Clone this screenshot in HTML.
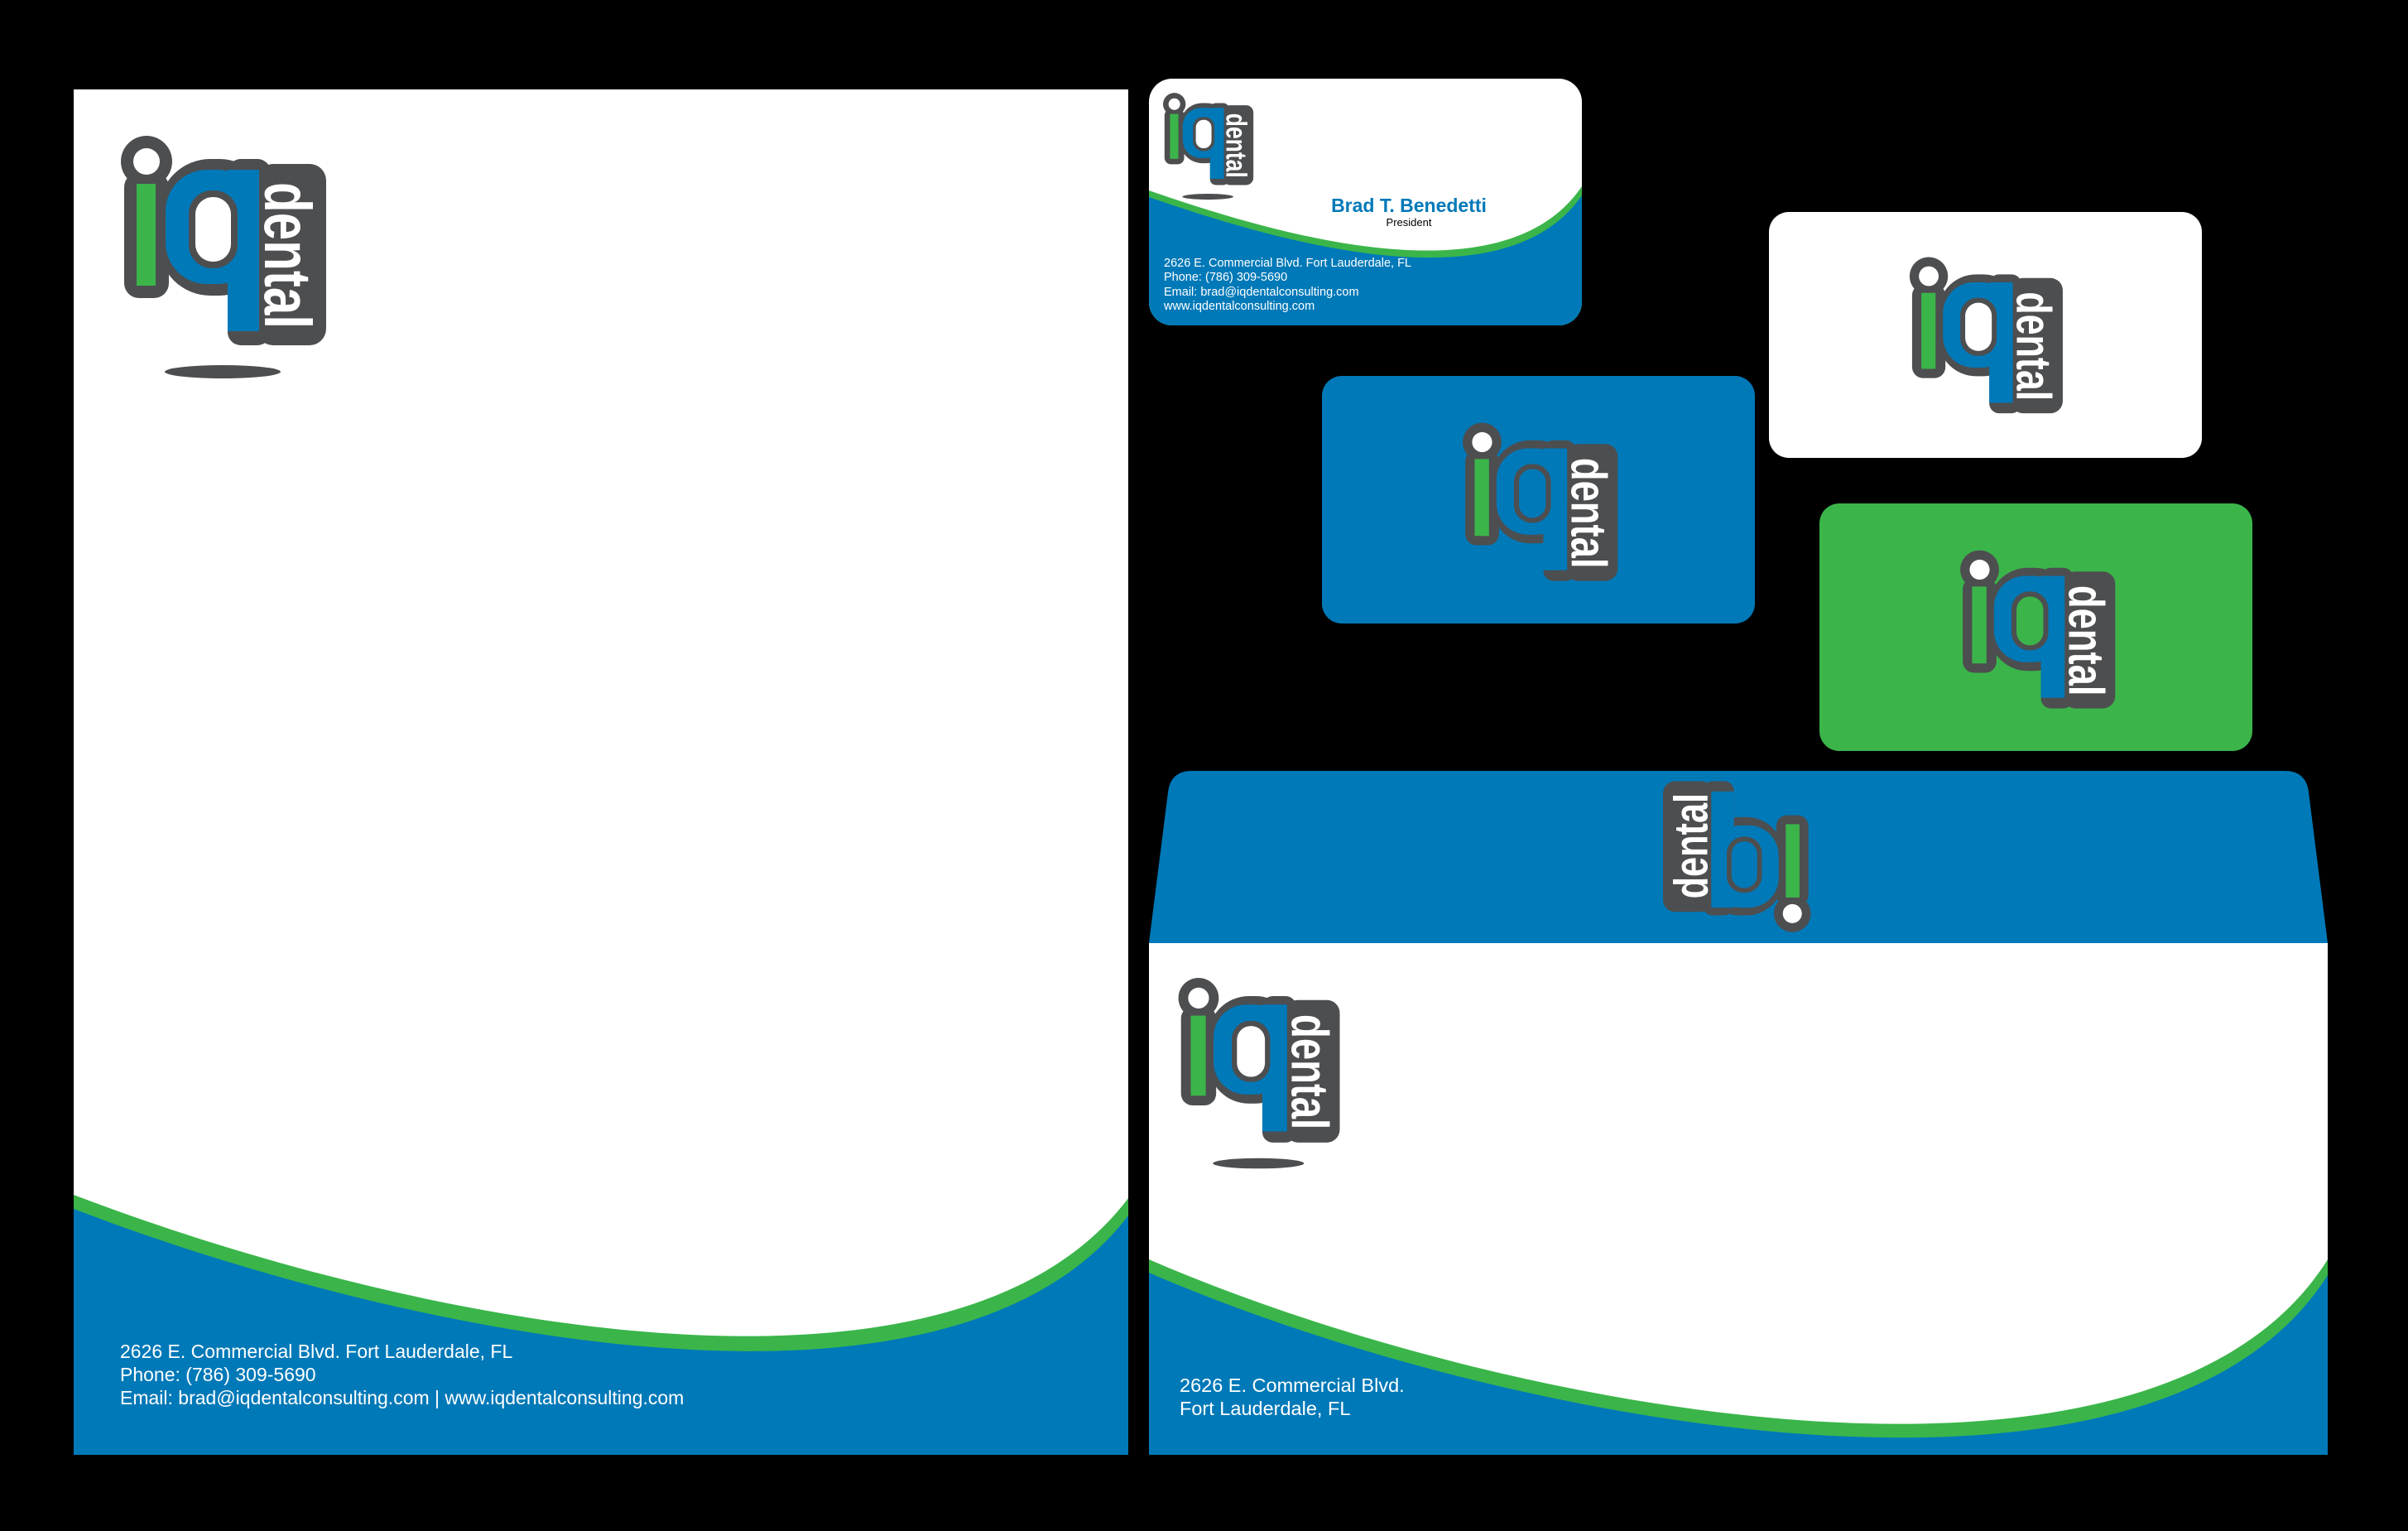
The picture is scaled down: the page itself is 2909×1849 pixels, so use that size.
<!DOCTYPE html>
<html><head><meta charset="utf-8"><style>
html,body{margin:0;padding:0;background:#000;}
svg{display:block}
text{font-family:"Liberation Sans",Arial,sans-serif}
</style></head><body>
<svg width="2909" height="1849" viewBox="0 0 2909 1849" xmlns="http://www.w3.org/2000/svg">
<rect width="2909" height="1849" fill="#000"/>
<defs>
<clipPath id="cl"><rect x="89" y="108" width="1274" height="1649"/></clipPath>
<clipPath id="cb"><rect x="1388" y="95" width="523" height="298" rx="28"/></clipPath>
<clipPath id="ce"><rect x="1388" y="1139" width="1424" height="618"/></clipPath>
</defs>

<!-- Letterhead -->
<g clip-path="url(#cl)">
<rect x="89" y="108" width="1274" height="1649" fill="#fff"/>
<path d="M89 1443 C 500 1600, 1150 1730, 1363 1447 L1363 1757 L89 1757 Z" fill="#3bb54a"/>
<path d="M89 1460 C 500 1617, 1150 1748, 1363 1468 L1363 1757 L89 1757 Z" fill="#0079b8"/>
</g>
<text x="145" y="1640" font-size="23" fill="#fff">2626 E. Commercial Blvd. Fort Lauderdale, FL</text>
<text x="145" y="1668" font-size="23" fill="#fff">Phone: (786) 309-5690</text>
<text x="145" y="1696" font-size="23" fill="#fff">Email: brad@iqdentalconsulting.com | www.iqdentalconsulting.com</text>
<g transform="translate(130,150)">
<circle cx="47" cy="45" r="31" fill="#4d4e50"/><rect x="20" y="58" width="54" height="152" rx="18" fill="#4d4e50"/><rect x="62" y="42" width="135" height="165" rx="62" fill="#4d4e50"/><rect x="145" y="42" width="52" height="225" rx="16" fill="#4d4e50"/><rect x="180" y="48" width="84" height="219" rx="20" fill="#4d4e50"/><circle cx="47" cy="45" r="16" fill="#fff"/><rect x="35" y="72" width="23" height="123" fill="#3bb54a"/><rect x="70" y="55" width="113" height="138" rx="50" fill="#0079b8"/><rect x="145" y="55" width="38" height="195" fill="#0079b8"/><rect x="98" y="80" width="59" height="94" rx="28" fill="#4d4e50"/><rect x="106" y="88" width="43" height="78" rx="21" fill="#fff"/><text transform="translate(190,70) rotate(90)" font-weight="bold" font-size="80" fill="#fff" textLength="177" lengthAdjust="spacingAndGlyphs">dental</text><ellipse cx="139" cy="299" rx="70" ry="8" fill="#4d4e50"/>
</g>

<!-- Business card -->
<g clip-path="url(#cb)">
<rect x="1388" y="95" width="523" height="298" fill="#fff"/>
<path d="M1388 230 C 1560 290, 1820 360, 1911 225 L1911 393 L1388 393 Z" fill="#3bb54a"/>
<path d="M1388 238 C 1560 298, 1820 368, 1911 236 L1911 393 L1388 393 Z" fill="#0079b8"/>
</g>
<text x="1702" y="256" font-size="23" font-weight="bold" fill="#0079b8" text-anchor="middle">Brad T. Benedetti</text>
<text x="1702" y="273" font-size="13" fill="#000" text-anchor="middle">President</text>
<text x="1406" y="322" font-size="14.5" fill="#fff">2626 E. Commercial Blvd. Fort Lauderdale, FL</text>
<text x="1406" y="339" font-size="14.5" fill="#fff">Phone: (786) 309-5690</text>
<text x="1406" y="357" font-size="14.5" fill="#fff">Email: brad@iqdentalconsulting.com</text>
<text x="1406" y="374" font-size="14.5" fill="#fff">www.iqdentalconsulting.com</text>
<g transform="translate(1398,106) scale(0.44)">
<circle cx="47" cy="45" r="31" fill="#4d4e50"/><rect x="20" y="58" width="54" height="152" rx="18" fill="#4d4e50"/><rect x="62" y="42" width="135" height="165" rx="62" fill="#4d4e50"/><rect x="145" y="42" width="52" height="225" rx="16" fill="#4d4e50"/><rect x="180" y="48" width="84" height="219" rx="20" fill="#4d4e50"/><circle cx="47" cy="45" r="16" fill="#fff"/><rect x="35" y="72" width="23" height="123" fill="#3bb54a"/><rect x="70" y="55" width="113" height="138" rx="50" fill="#0079b8"/><rect x="145" y="55" width="38" height="195" fill="#0079b8"/><rect x="98" y="80" width="59" height="94" rx="28" fill="#4d4e50"/><rect x="106" y="88" width="43" height="78" rx="21" fill="#fff"/><text transform="translate(190,70) rotate(90)" font-weight="bold" font-size="80" fill="#fff" textLength="177" lengthAdjust="spacingAndGlyphs">dental</text><ellipse cx="139" cy="299" rx="70" ry="8" fill="#4d4e50"/>
</g>

<!-- White card -->
<rect x="2137" y="256" width="523" height="297" rx="24" fill="#fff"/>
<g transform="translate(2295,300) scale(0.746)">
<circle cx="47" cy="45" r="31" fill="#4d4e50"/><rect x="20" y="58" width="54" height="152" rx="18" fill="#4d4e50"/><rect x="62" y="42" width="135" height="165" rx="62" fill="#4d4e50"/><rect x="145" y="42" width="52" height="225" rx="16" fill="#4d4e50"/><rect x="180" y="48" width="84" height="219" rx="20" fill="#4d4e50"/><circle cx="47" cy="45" r="16" fill="#fff"/><rect x="35" y="72" width="23" height="123" fill="#3bb54a"/><rect x="70" y="55" width="113" height="138" rx="50" fill="#0079b8"/><rect x="145" y="55" width="38" height="195" fill="#0079b8"/><rect x="98" y="80" width="59" height="94" rx="28" fill="#4d4e50"/><rect x="106" y="88" width="43" height="78" rx="21" fill="#fff"/><text transform="translate(190,70) rotate(90)" font-weight="bold" font-size="80" fill="#fff" textLength="177" lengthAdjust="spacingAndGlyphs">dental</text>
</g>

<!-- Blue card -->
<rect x="1597" y="454" width="523" height="299" rx="24" fill="#0079b8"/>
<g transform="translate(1755,500) scale(0.755)">
<circle cx="47" cy="45" r="31" fill="#4d4e50"/><rect x="20" y="58" width="54" height="152" rx="18" fill="#4d4e50"/><rect x="62" y="42" width="135" height="165" rx="62" fill="#4d4e50"/><rect x="145" y="42" width="52" height="225" rx="16" fill="#4d4e50"/><rect x="180" y="48" width="84" height="219" rx="20" fill="#4d4e50"/><circle cx="47" cy="45" r="16" fill="#fff"/><rect x="35" y="72" width="23" height="123" fill="#3bb54a"/><rect x="70" y="55" width="113" height="138" rx="50" fill="#0079b8"/><rect x="145" y="55" width="38" height="195" fill="#0079b8"/><rect x="98" y="80" width="59" height="94" rx="28" fill="#4d4e50"/><rect x="106" y="88" width="43" height="78" rx="21" fill="#0079b8"/><text transform="translate(190,70) rotate(90)" font-weight="bold" font-size="80" fill="#fff" textLength="177" lengthAdjust="spacingAndGlyphs">dental</text>
</g>

<!-- Green card -->
<rect x="2198" y="608" width="523" height="299" rx="24" fill="#3bb54a"/>
<g transform="translate(2356,654) scale(0.755)">
<circle cx="47" cy="45" r="31" fill="#4d4e50"/><rect x="20" y="58" width="54" height="152" rx="18" fill="#4d4e50"/><rect x="62" y="42" width="135" height="165" rx="62" fill="#4d4e50"/><rect x="145" y="42" width="52" height="225" rx="16" fill="#4d4e50"/><rect x="180" y="48" width="84" height="219" rx="20" fill="#4d4e50"/><circle cx="47" cy="45" r="16" fill="#fff"/><rect x="35" y="72" width="23" height="123" fill="#3bb54a"/><rect x="70" y="55" width="113" height="138" rx="50" fill="#0079b8"/><rect x="145" y="55" width="38" height="195" fill="#0079b8"/><rect x="98" y="80" width="59" height="94" rx="28" fill="#4d4e50"/><rect x="106" y="88" width="43" height="78" rx="21" fill="#3bb54a"/><text transform="translate(190,70) rotate(90)" font-weight="bold" font-size="80" fill="#fff" textLength="177" lengthAdjust="spacingAndGlyphs">dental</text>
</g>

<!-- Envelope -->
<path d="M1440 931 L2760 931 Q2786 931 2789 957 L2812 1139 L1388 1139 L1411 957 Q1414 931 1440 931 Z" fill="#0079b8"/>
<g clip-path="url(#ce)">
<rect x="1388" y="1139" width="1424" height="618" fill="#fff"/>
<path d="M1388 1521 C 1800 1700, 2600 1860, 2812 1521 L2812 1757 L1388 1757 Z" fill="#3bb54a"/>
<path d="M1388 1537 C 1800 1716, 2600 1876, 2812 1540 L2812 1757 L1388 1757 Z" fill="#0079b8"/>
</g>
<text x="1425" y="1681" font-size="23.5" fill="#fff">2626 E. Commercial Blvd.</text>
<text x="1425" y="1709" font-size="23.5" fill="#fff">Fort Lauderdale, FL</text>
<g transform="translate(1411,1170) scale(0.786)">
<circle cx="47" cy="45" r="31" fill="#4d4e50"/><rect x="20" y="58" width="54" height="152" rx="18" fill="#4d4e50"/><rect x="62" y="42" width="135" height="165" rx="62" fill="#4d4e50"/><rect x="145" y="42" width="52" height="225" rx="16" fill="#4d4e50"/><rect x="180" y="48" width="84" height="219" rx="20" fill="#4d4e50"/><circle cx="47" cy="45" r="16" fill="#fff"/><rect x="35" y="72" width="23" height="123" fill="#3bb54a"/><rect x="70" y="55" width="113" height="138" rx="50" fill="#0079b8"/><rect x="145" y="55" width="38" height="195" fill="#0079b8"/><rect x="98" y="80" width="59" height="94" rx="28" fill="#4d4e50"/><rect x="106" y="88" width="43" height="78" rx="21" fill="#fff"/><text transform="translate(190,70) rotate(90)" font-weight="bold" font-size="80" fill="#fff" textLength="177" lengthAdjust="spacingAndGlyphs">dental</text><ellipse cx="139" cy="299" rx="70" ry="8" fill="#4d4e50"/>
</g>
<g transform="translate(2099,1035) scale(0.72) rotate(180) translate(-139,-140)">
<circle cx="47" cy="45" r="31" fill="#4d4e50"/><rect x="20" y="58" width="54" height="152" rx="18" fill="#4d4e50"/><rect x="62" y="42" width="135" height="165" rx="62" fill="#4d4e50"/><rect x="145" y="42" width="52" height="225" rx="16" fill="#4d4e50"/><rect x="180" y="48" width="84" height="219" rx="20" fill="#4d4e50"/><circle cx="47" cy="45" r="16" fill="#fff"/><rect x="35" y="72" width="23" height="123" fill="#3bb54a"/><rect x="70" y="55" width="113" height="138" rx="50" fill="#0079b8"/><rect x="145" y="55" width="38" height="195" fill="#0079b8"/><rect x="98" y="80" width="59" height="94" rx="28" fill="#4d4e50"/><rect x="106" y="88" width="43" height="78" rx="21" fill="#0079b8"/><text transform="translate(190,70) rotate(90)" font-weight="bold" font-size="80" fill="#fff" textLength="177" lengthAdjust="spacingAndGlyphs">dental</text>
</g>
</svg>
</body></html>
